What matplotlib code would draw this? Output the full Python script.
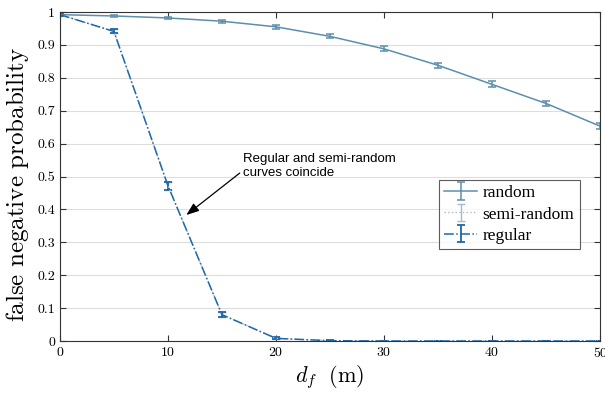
import matplotlib.pyplot as plt
import numpy as np

plt.rcParams['mathtext.fontset'] = 'cm'
plt.rcParams['axes.formatter.use_mathtext'] = True

d_f = [0, 5, 10, 15, 20, 25, 30, 35, 40, 45, 50]
p_random = [0.992, 0.988, 0.982, 0.972, 0.955, 0.926, 0.888, 0.838, 0.780, 0.722, 0.653]
err_random = [0.003, 0.003, 0.004, 0.005, 0.006, 0.006, 0.008, 0.008, 0.009, 0.009, 0.01]
p_semi = [0.992, 0.941, 0.472, 0.080, 0.008, 0.001, 0.0, 0.0, 0.0, 0.0, 0.0]
err_semi = [0.003, 0.006, 0.012, 0.007, 0.003, 0.001, 0.0, 0.0, 0.0, 0.0, 0.0]
p_regular = [0.992, 0.941, 0.472, 0.080, 0.008, 0.001, 0.0, 0.0, 0.0, 0.0, 0.0]
err_regular = [0.003, 0.006, 0.012, 0.007, 0.003, 0.001, 0.0, 0.0, 0.0, 0.0, 0.0]

fig = plt.figure(figsize=(6.05, 3.94), dpi=100)
ax = fig.add_axes([0.099, 0.1345, 0.893, 0.835])

ax.errorbar(d_f, p_random, yerr=err_random, color='#5b8fae', lw=1.1,
            capsize=3, capthick=1.1, elinewidth=1.1, label='random')
ax.errorbar(d_f, p_semi, yerr=err_semi, color='#aab9c9', lw=1.0, ls=':',
            capsize=3, capthick=1.0, elinewidth=1.0, label='semi-random')
ax.errorbar(d_f, p_regular, yerr=err_regular, color='#1f68a8', lw=1.1, ls='-.',
            capsize=3, capthick=1.3, elinewidth=1.3, label='regular')

ax.set_xlim(0, 50)
ax.set_ylim(0, 1)
ax.set_xticks(np.arange(0, 51, 10))
ax.set_yticks(np.arange(0, 1.01, 0.1))
ax.set_yticklabels(['0', '0.1', '0.2', '0.3', '0.4', '0.5', '0.6', '0.7', '0.8', '0.9', '1'])
ax.yaxis.grid(True, color='#dddddd', lw=0.8)
ax.set_axisbelow(True)
ax.tick_params(direction='in', top=True, right=True, labelsize=10, length=4, color='#333333')
for lab in ax.get_xticklabels() + ax.get_yticklabels():
    lab.set_fontfamily('cmr10')
for s in ax.spines.values():
    s.set_color('#333333')

ax.set_xlabel(r'$d_f\ \ \mathrm{(m)}$', fontsize=16, labelpad=2)
ax.set_ylabel(r'$\mathrm{false\ negative\ probability}$', fontsize=18)
ax.yaxis.set_label_coords(-0.054, 0.475)

ax.annotate('Regular and semi-random\ncurves coincide', xy=(11.7, 0.383), xytext=(16.9, 0.572),
            fontsize=9.5, family='Liberation Sans', va='top', ha='left',
            arrowprops=dict(arrowstyle='-|>,head_length=0.8,head_width=0.3', color='black', lw=0.9,
                            shrinkA=0, shrinkB=0, relpos=(0.0, 0.3)))

leg = ax.legend(loc='upper left', bbox_to_anchor=(0.702, 0.49), prop={'family': 'Liberation Serif', 'size': 12.5},
                fancybox=False, edgecolor='#333333', borderpad=0.3, labelspacing=0.3,
                handlelength=1.9, handletextpad=0.3, borderaxespad=0)
leg.get_frame().set_linewidth(0.8)

fig.savefig('out.png', dpi=100)
